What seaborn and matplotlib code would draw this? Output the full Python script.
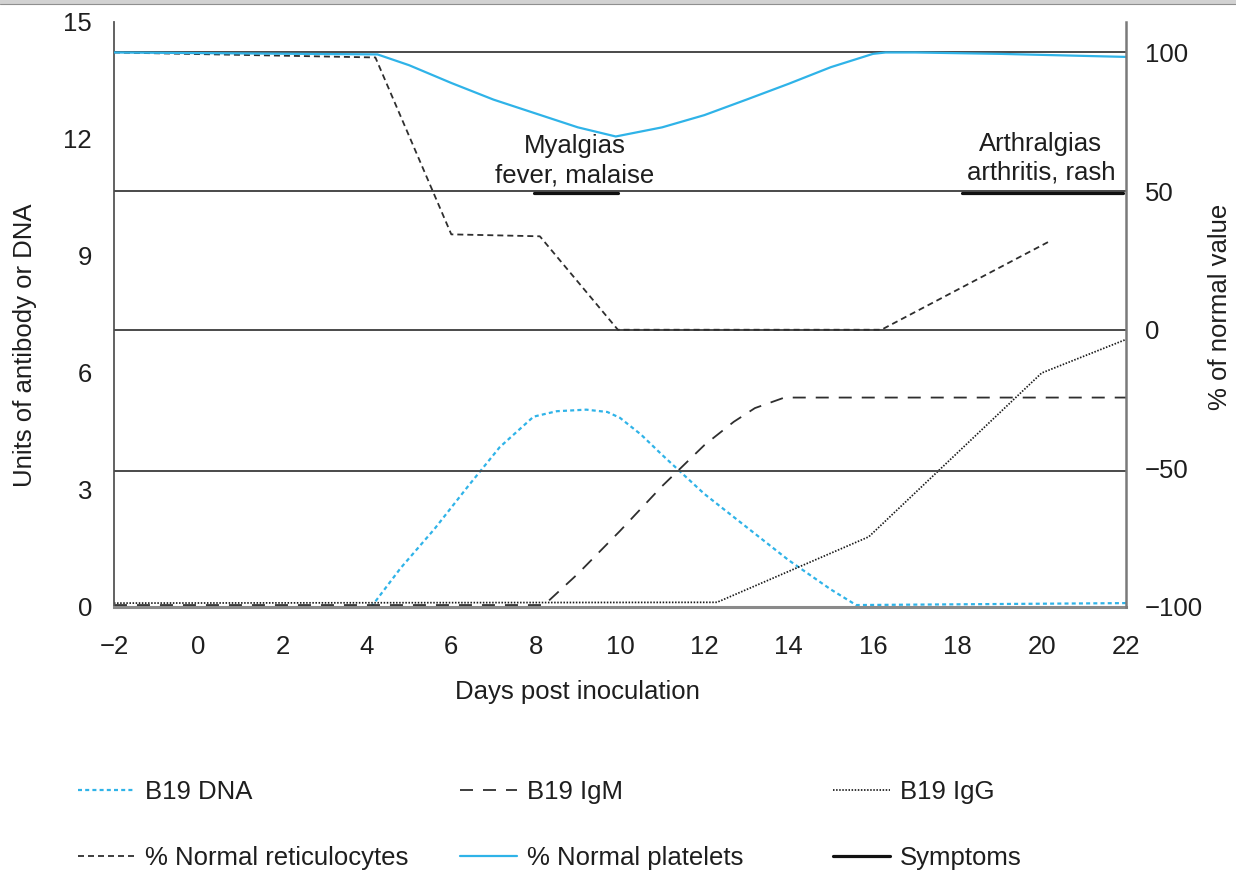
import matplotlib
matplotlib.use("Agg")
import matplotlib.pyplot as plt
from matplotlib.patches import Rectangle
from matplotlib.lines import Line2D
import seaborn as sns

# ---- B19 markers (left axis, units of antibody or DNA) ----
dna_days = [4.1, 4.8, 5.6, 6.4, 7.15, 7.95, 8.5, 9.2, 9.7, 10.0, 10.5, 11.0, 12.0, 13.0, 14.0, 15.0, 15.6, 22.0]
dna_units = [0.0, 1.0, 2.0, 3.1, 4.1, 4.88, 5.02, 5.06, 5.0, 4.85, 4.42, 3.9, 2.9, 2.05, 1.2, 0.45, 0.05, 0.1]

igm_days = [-2.0, 8.2, 9.0, 10.0, 11.0, 12.0, 12.7, 13.2, 13.9, 22.0]
igm_units = [0.05, 0.05, 0.85, 1.95, 3.1, 4.15, 4.75, 5.1, 5.37, 5.37]

igg_days = [-2.0, 12.3, 15.9, 20.0, 22.0]
igg_units = [0.1, 0.12, 1.8, 6.0, 6.86]

# ---- Haematology (right axis, % of normal value) ----
retic_days = [-2.0, 4.2, 6.0, 8.1, 9.95, 16.2, 20.2]
retic_pct = [100.0, 98.2, 34.4, 33.7, 0.0, 0.0, 32.0]

plt_days = [-2.0, 4.25, 5.0, 6.0, 7.0, 8.0, 9.0, 9.9, 11.0, 12.0, 13.0, 14.0, 15.0, 16.0, 16.3, 17.0, 19.0, 22.0]
plt_pct = [100.0, 99.3, 95.4, 89.0, 83.0, 78.0, 73.0, 69.7, 73.0, 77.4, 83.0, 88.7, 94.7, 99.5, 100.0, 100.0, 99.5, 98.4]

# ---- Symptom periods (days) ----
symptom_start = [7.95, 18.1]
symptom_end = [9.95, 21.93]
symptom_text = ["Myalgias\nfever, malaise", "Arthralgias\narthritis, rash"]

x_ticks = list(range(-2, 23, 2))
left_ticks = [0, 3, 6, 9, 12, 15]
right_ticks = [-100, -50, 0, 50, 100]
reference_levels = [100, 50, 0, -51]

FS = 18.5
INK = "#1e1e1e"
CYAN = "#2fb3e8"
DARK = "#2e2e2e"

sns.set_style("white")
plt.rcParams["font.family"] = ["Liberation Sans", "DejaVu Sans"]
plt.rcParams["text.color"] = INK

fig = plt.figure(figsize=(12.36, 8.72), dpi=100)
ax = fig.add_axes([0.0922, 0.3039, 0.8188, 0.6709])
ax2 = ax.twinx()


def px_dashes(on, off, lw_pt):
    # dash lengths given in pixels, converted to linewidth multiples
    return (0, (on * 0.72 / lw_pt, off * 0.72 / lw_pt))


def draw(axis, days, vals, label, **kw):
    sns.lineplot(x=days, y=vals, ax=axis, estimator=None, sort=False,
                 legend=False, label=label, **kw)
    return axis.lines[-1]


# reference levels on the percentage scale
for lvl in reference_levels:
    ax2.axhline(lvl, color="#4a4a4a", lw=1.4, zorder=1)

h_dna = draw(ax, dna_days, dna_units, "B19 DNA", color=CYAN, lw=1.6,
             linestyle=px_dashes(4, 3.2, 1.6))
h_igm = draw(ax, igm_days, igm_units, "B19 IgM", color=DARK, lw=1.3,
             linestyle=px_dashes(13, 10, 1.3))
h_igg = draw(ax, igg_days, igg_units, "B19 IgG", color="#1a1a1a", lw=1.25,
             linestyle=px_dashes(1.5, 1.6, 1.25))

h_ret = draw(ax2, retic_days, retic_pct, "% Normal reticulocytes", color=DARK, lw=1.3,
             linestyle=px_dashes(6, 4, 1.3))
h_plt = draw(ax2, plt_days, plt_pct, "% Normal platelets", color=CYAN, lw=1.6,
             linestyle="-")

h_sym = None
for s, e in zip(symptom_start, symptom_end):
    h_sym = draw(ax2, [s, e], [49.3, 49.3], "Symptoms", color="#111111", lw=2.3,
                 linestyle="-")

for s, e, txt, yb in zip(symptom_start, symptom_end, symptom_text, [51.4, 52.4]):
    xc = 8.93 if s < 12 else 19.98
    ax2.text(xc, yb, txt, ha="center", va="bottom", fontsize=FS,
             linespacing=1.25, color=INK)

# axes limits and ticks
ax.set_xlim(-2, 22)
ax.set_ylim(0, 15)
ax2.set_ylim(-100, 111)
ax.set_xticks(x_ticks)
ax.set_yticks(left_ticks)
ax2.set_yticks(right_ticks)

ax.tick_params(axis="y", length=0, pad=15.8, labelsize=FS, labelcolor=INK)
ax.tick_params(axis="x", length=0, pad=20, labelsize=FS, labelcolor=INK)
ax2.tick_params(axis="y", length=0, pad=13.7, labelsize=FS, labelcolor=INK)

# spines
for a in (ax, ax2):
    a.spines["top"].set_visible(False)
ax.spines["right"].set_visible(False)
ax2.spines["left"].set_visible(False)
ax2.spines["bottom"].set_visible(False)
ax.spines["left"].set_color("#555555")
ax.spines["left"].set_linewidth(1.3)
ax.spines["bottom"].set_color("#8a8a8a")
ax.spines["bottom"].set_linewidth(2.2)
ax2.spines["right"].set_color("#7a7a7a")
ax2.spines["right"].set_linewidth(1.8)

# axis titles
ax.set_xlabel("Days post inoculation", fontsize=FS, va="center", color=INK)
ax.xaxis.set_label_coords(0.4575, -0.1453)
ax.set_ylabel("Units of antibody or DNA", fontsize=FS, va="center", color=INK)
ax.yaxis.set_label_coords(-0.0879, 0.448)
ax2.set_ylabel("% of normal value", fontsize=FS, va="center", color=INK)
ax2.yaxis.set_label_coords(1.0925, 0.513)

# legend, one block per column
columns = [[h_dna, h_ret], [h_igm, h_plt], [h_igg, h_sym]]
col_x = [78, 460, 833]
for cx, handles in zip(col_x, columns):
    fig.legend(handles=handles, labels=[h.get_label() for h in handles],
               loc="center left", bbox_to_anchor=(cx / 1236, 1 - 825 / 872),
               frameon=False, fontsize=FS, handlelength=2.2, handletextpad=0.4,
               labelspacing=1.65, borderpad=0, borderaxespad=0)

# window strip along the top edge
fig.patches.append(Rectangle((0, 1 - 4.5 / 872), 1, 4.5 / 872, transform=fig.transFigure,
                             facecolor="#d2d2d2", edgecolor="none", zorder=0))
fig.lines.append(Line2D([0, 1], [1 - 4.5 / 872, 1 - 4.5 / 872], transform=fig.transFigure,
                        color="#8f8f8f", lw=0.8))

fig.savefig("out.png", dpi=100)
